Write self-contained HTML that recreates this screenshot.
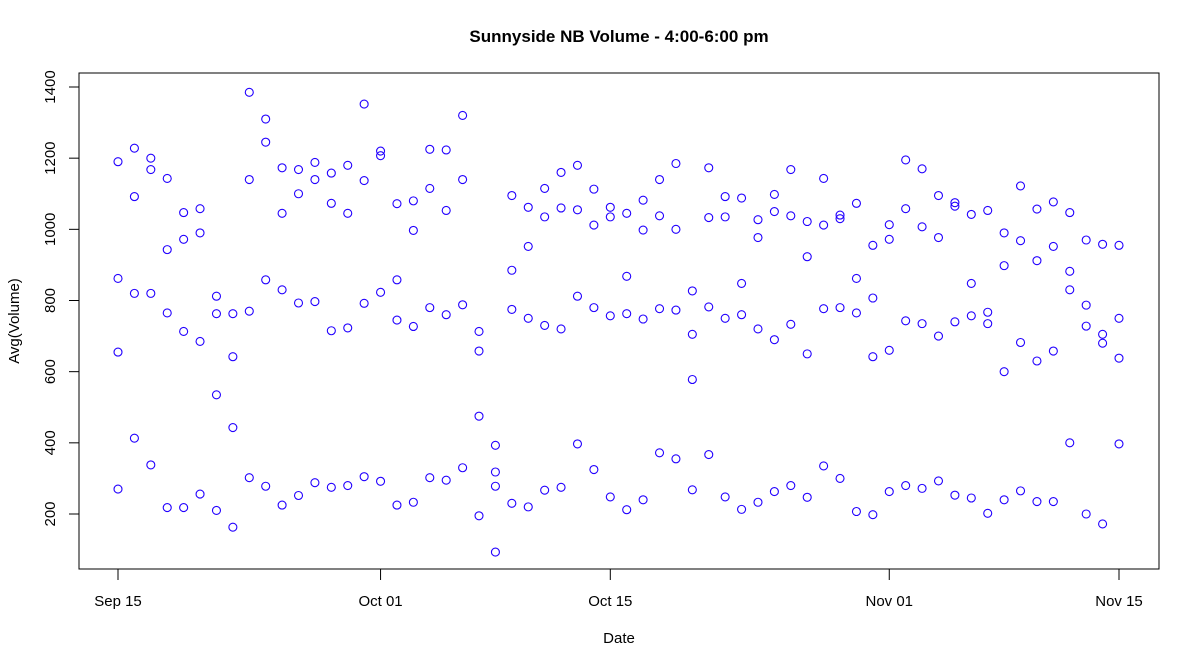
<!DOCTYPE html>
<html><head><meta charset="utf-8"><style>
html,body{margin:0;padding:0;background:#fff;}
svg{display:block;font-family:"Liberation Sans",Arial,sans-serif;}
</style></head><body>
<svg id="chart" width="1186" height="656">
<rect x="0" y="0" width="1186" height="656" fill="#fff"/>
<text x="619" y="42" text-anchor="middle" font-size="17" font-weight="bold">Sunnyside NB Volume - 4:00-6:00 pm</text>
<rect x="79" y="73" width="1080" height="496" fill="none" stroke="#000" stroke-width="1"/>
<g id="yaxis"></g>
<g id="xaxis"></g>
<g id="pts"></g>
<text x="619" y="643" text-anchor="middle" font-size="15">Date</text>
<text x="0" y="0" transform="translate(19,321) rotate(-90)" text-anchor="middle" font-size="15">Avg(Volume)</text>
</svg>
<script>
const yTicks=[200,400,600,800,1000,1200,1400];
const xTickDays=[0,16,30,47,61];
const xTickLabels=["Sep 15","Oct 01","Oct 15","Nov 01","Nov 15"];
const vals0=[1190,1228,1200,1143,1047,1058,812,763,1385,1310,1173,1168,1188,1158,1180,1352,1220,1072,1080,1225,1223,1320,713,393,1095,1062,1115,1160,1180,1113,1062,1045,1082,1140,1185,827,1173,1092,1088,1027,1098,1168,1022,1143,1040,1073,955,1013,1195,1170,1095,1075,1042,1053,990,1122,1057,1077,1047,970,958,955];
const vals1=[862,1092,1168,943,972,990,763,642,1140,1245,1045,1100,1140,1073,1045,1137,1207,858,997,1115,1053,1140,658,318,885,952,1035,1060,1055,1012,1035,868,998,1038,1000,705,1033,1035,848,977,1050,1038,923,1012,1030,862,807,972,1058,1007,977,1065,848,767,898,968,912,952,882,787,705,750];
const vals2=[655,820,820,765,713,685,535,443,770,858,830,793,797,715,723,792,823,745,727,780,760,788,475,278,775,750,730,720,812,780,757,763,748,777,773,578,782,750,760,720,690,733,650,777,780,765,642,660,743,735,700,740,757,735,600,682,630,658,830,728,680,638];
const vals3=[270,413,338,218,218,256,210,163,302,278,225,252,288,275,280,305,292,225,233,302,295,330,195,93,230,220,267,275,397,325,248,212,240,372,355,268,367,248,213,233,263,280,247,335,300,207,198,263,280,272,293,253,245,202,240,265,235,235,400,200,172,397];
const NS='http://www.w3.org/2000/svg';
function X(d){return 118+d*(1001/61);}
function Y(v){return 514-(v-200)*(427/1200);}
function mk(tag,attrs,parent){const e=document.createElementNS(NS,tag);for(const k in attrs)e.setAttribute(k,attrs[k]);parent.appendChild(e);return e;}
const ya=document.getElementById('yaxis');
mk('line',{x1:79,y1:Y(200),x2:79,y2:Y(1400),stroke:'#000'},ya);
yTicks.forEach(t=>{
  const l=mk('line',{x1:69,y1:Y(t),x2:79,y2:Y(t),stroke:'#000'},ya);
  
  
  const tx=mk('text',{transform:`translate(55,${Y(t)}) rotate(-90)`,'text-anchor':'middle','font-size':'15'},ya);
  tx.textContent=t;
  
  
});
const xa=document.getElementById('xaxis');
mk('line',{x1:X(0),y1:569,x2:X(61),y2:569,stroke:'#000'},xa);
xTickDays.forEach((d,i)=>{
  const l=mk('line',{x1:X(d),y1:569,x2:X(d),y2:580,stroke:'#000'},xa);
  
  
  const tx=mk('text',{x:X(d),y:606,'text-anchor':'middle','font-size':'15'},xa);
  tx.textContent=xTickLabels[i];
  
  
});
const pg=document.getElementById('pts');
[vals0,vals1,vals2,vals3].forEach(arr=>{
  arr.forEach((v,d)=>{
    const c=mk('circle',{cx:X(d),cy:Y(v),r:4,fill:'none',stroke:'#2200ff','stroke-width':1.1},pg);
    
    
  });
});
</script>
</body></html>
